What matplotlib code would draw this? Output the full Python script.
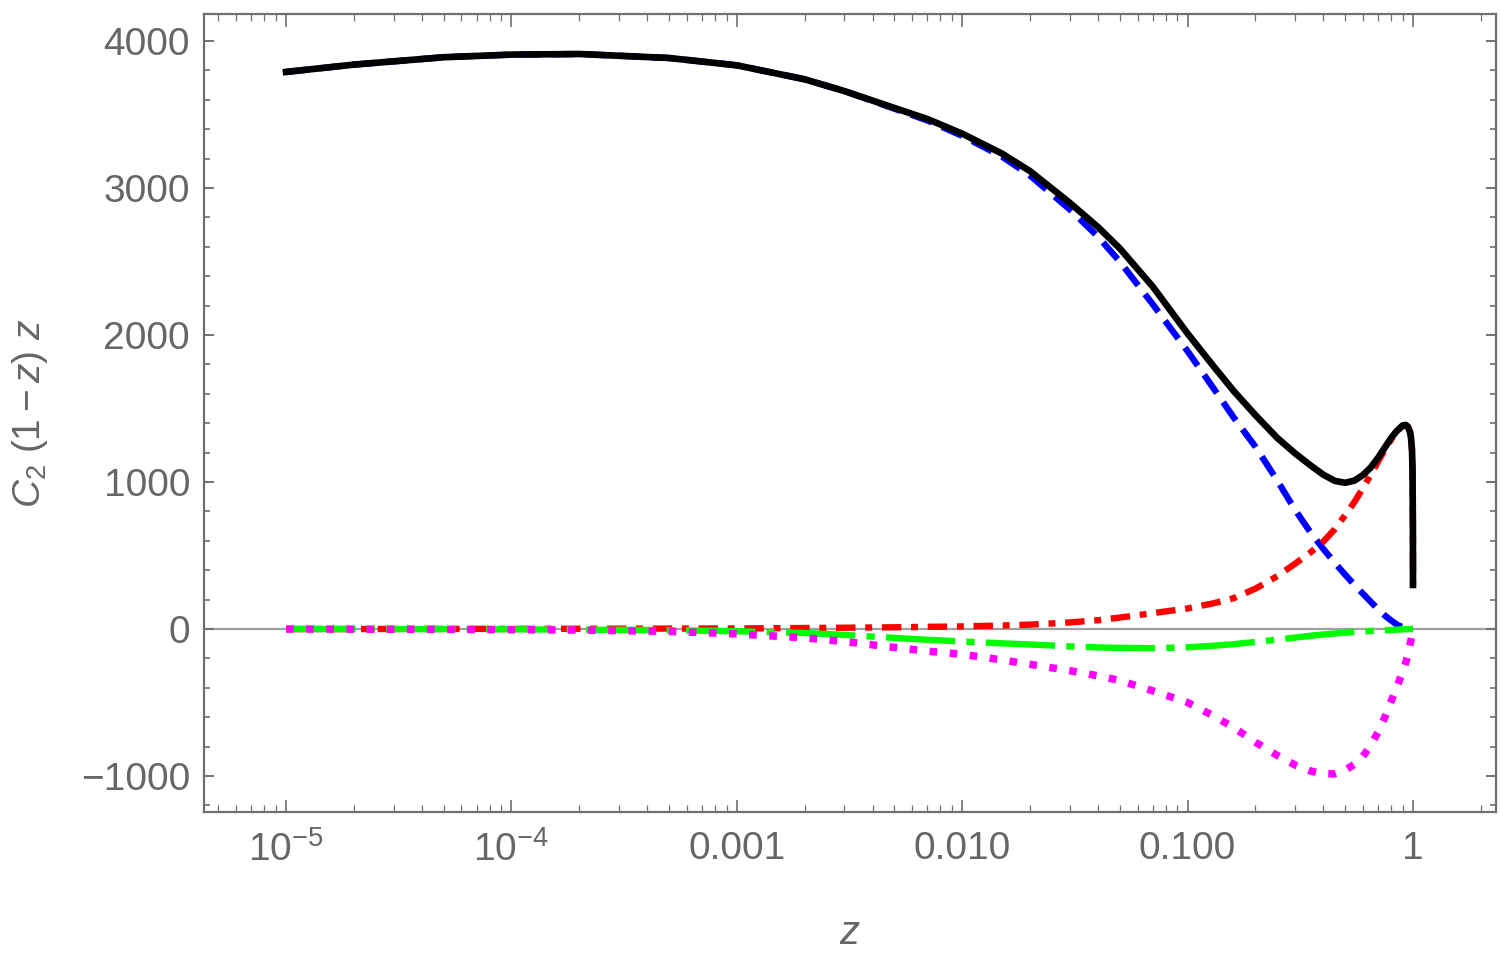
import matplotlib
matplotlib.use('Agg')
import matplotlib.pyplot as plt
from matplotlib.ticker import LogLocator, MultipleLocator, FixedLocator, FixedFormatter, NullFormatter
import numpy as np

plt.rcParams['font.family'] = ['Liberation Sans', 'DejaVu Sans']
plt.rcParams['mathtext.fontset'] = 'custom'
plt.rcParams['mathtext.rm'] = 'Liberation Sans'
plt.rcParams['mathtext.it'] = 'Liberation Sans:italic'
plt.rcParams['lines.scale_dashes'] = False

# values
z = np.array([1e-5, 2e-5, 5e-5, 1e-4, 2e-4, 5e-4, 1e-3, 2e-3, 3e-3, 5e-3,
              7e-3, 0.01, 0.015, 0.02, 0.03, 0.04, 0.05, 0.07, 0.1, 0.13,
              0.16, 0.2, 0.25, 0.3, 0.35, 0.4, 0.45, 0.5, 0.55, 0.6,
              0.65, 0.7, 0.75, 0.8, 0.85, 0.9, 0.93, 0.95, 0.97, 0.98,
              0.99, 0.995, 0.999, 1.0])

total = [3790, 3840, 3890, 3908, 3912, 3885, 3835, 3740, 3660, 3545,
         3470, 3370, 3235, 3115, 2900, 2735, 2590, 2330, 2010, 1790,
         1620, 1455, 1300, 1195, 1115, 1050, 1008, 995, 1010, 1048,
         1100, 1165, 1235, 1300, 1350, 1385, 1388, 1375, 1340, 1300,
         1215, 1080, 700, 300]

blue = [3790, 3840, 3890, 3908, 3912, 3885, 3835, 3740, 3660, 3540,
        3460, 3355, 3215, 3085, 2855, 2670, 2500, 2210, 1890, 1640,
        1440, 1240, 1010, 810, 660, 545, 450, 370, 300, 240,
        185, 135, 92, 58, 30, 12, 6, 3, 1, 0.5,
        0, 0, 0, 0]

red = [0, 0, 1, 1, 2, 3, 4, 7, 9, 12,
       15, 18, 24, 30, 45, 60, 78, 108, 140, 175,
       210, 275, 360, 445, 520, 595, 680, 775, 865, 960,
       1050, 1140, 1220, 1290, 1345, 1383, 1388, 1375, 1340, 1300,
       1215, 1080, 700, 300]

green = [0, 0, -1, -2, -4, -8, -15, -27, -40, -60,
         -73, -85, -97, -105, -118, -125, -128, -130, -124, -114,
         -103, -88, -72, -58, -46, -37, -30, -25, -20, -16,
         -13, -10, -8, -6, -4, -2.5, -1.5, -1, -0.5, -0.3,
         0, 0, 0, 0]

magenta = [0, -1, -2, -4, -7, -16, -33, -60, -85, -125,
           -150, -172, -210, -240, -283, -318, -350, -420, -500, -590,
           -670, -770, -860, -925, -965, -985, -985, -960, -920, -865,
           -790, -700, -600, -490, -390, -290, -225, -170, -105, -72,
           -37, -18, -4, 0]

xticks = [1e-5, 1e-4, 1e-3, 1e-2, 1e-1, 1]
xticklabels = [r'$10^{-5}$', r'$10^{-4}$', '0.001', '0.010', '0.100', '1']
yticks = [-1000, 0, 1000, 2000, 3000, 4000]
yticklabels = ['\u22121000', '0', '1000', '2000', '3000', '4000']

gray = '#666666'
frame = '#707070'

fig = plt.figure(figsize=(15, 9.61), dpi=100)
ax = fig.add_axes([0.136, 0.155, 0.8613, 0.8304])

ax.axhline(0, color='#a0a0a0', lw=1.6, zorder=1)

lw = 4.6
ax.plot(z, blue, color='#0000ff', lw=lw, dashes=(16, 8), zorder=2)
ax.plot(z, red, color='#ff0000', lw=lw, dashes=(14, 7, 5, 7), zorder=2)
ax.plot(z, green, color='#00ff00', lw=lw, dashes=(50, 8, 6, 8), zorder=3)
ax.plot(z, magenta, color='#ff00ff', lw=5.4, dashes=(5.5, 9), zorder=4)
ax.plot(z, total, color='black', lw=4.8, zorder=5)

ax.set_xscale('log')
ax.set_xlim(10 ** -5.364, 10 ** 0.368)
ax.set_ylim(-1245, 4184)

ax.xaxis.set_major_locator(FixedLocator(xticks))
ax.xaxis.set_major_formatter(FixedFormatter(xticklabels))
ax.xaxis.set_minor_locator(LogLocator(base=10, subs=np.arange(2, 10), numticks=20))
ax.xaxis.set_minor_formatter(NullFormatter())
ax.yaxis.set_major_locator(FixedLocator(yticks))
ax.yaxis.set_major_formatter(FixedFormatter(yticklabels))
ax.yaxis.set_minor_locator(MultipleLocator(200))

ax.tick_params(which='both', direction='in', top=True, right=True,
               color=frame, labelcolor=gray, labelsize=28)
ax.tick_params(axis='x', which='major', length=9, width=1.2, pad=14)
ax.tick_params(axis='x', which='minor', length=5, width=0.9)
ax.tick_params(axis='y', which='major', length=7, width=1.4, pad=10)
ax.tick_params(axis='y', which='minor', length=4, width=1.2)

for s in ax.spines.values():
    s.set_color(frame)
    s.set_linewidth(1.6)

ax.set_xlabel(r'$z$', fontsize=29, color=gray, labelpad=32)
ax.set_ylabel(r'$C_2\ (1-z)\ z$', fontsize=28, color=gray, labelpad=22)

fig.savefig('out.png', dpi=100)
